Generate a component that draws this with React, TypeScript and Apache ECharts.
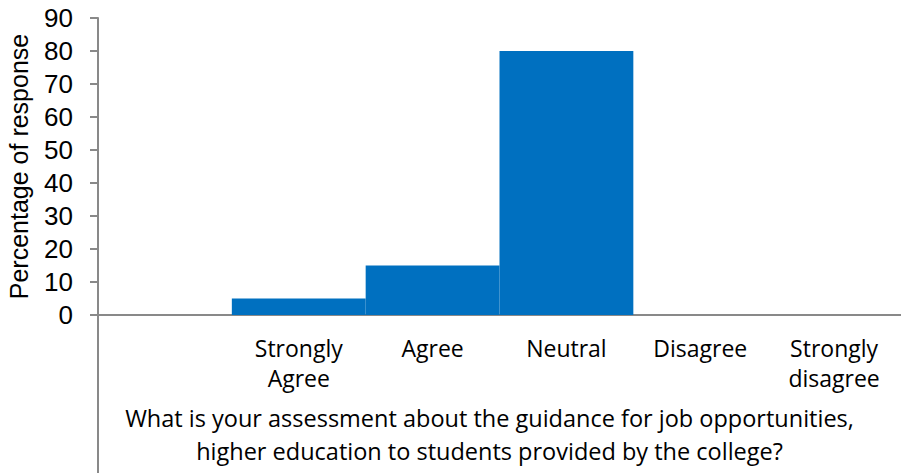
import React, { useEffect, useRef } from "react";
import * as echarts from "echarts";

const categories = ["", "Strongly\nAgree", "Agree", "Neutral", "Disagree", "Strongly\ndisagree"];
const values = [0, 5, 15, 80, 0, 0];
const yTitle = "Percentage of response";
const xTitle = "What is your assessment about the guidance for job opportunities,\nhigher education to students provided by the college?";

export default function App() {
  const ref = useRef<HTMLDivElement>(null);
  useEffect(() => {
    if (!ref.current) return;
    const chart = echarts.init(ref.current, null, { renderer: "svg" });
    const axisColor = "#898989";
    chart.setOption({
      animation: false,
      backgroundColor: "#ffffff",
      grid: { left: 98, right: 0, top: 18, bottom: 158, containLabel: false, outerBoundsMode: "none" },
      xAxis: {
        type: "category",
        data: categories,
        axisLine: { lineStyle: { color: axisColor, width: 2 } },
        axisTick: { show: false },
        axisLabel: {
          color: "#000",
          fontFamily: "Open Sans",
          fontSize: 23,
          lineHeight: 30,
          margin: 18,
          interval: 0,
        },
        name: xTitle,
        nameLocation: "middle",
        nameGap: 86,
        nameTextStyle: {
          color: "#000",
          fontFamily: "Open Sans",
          fontSize: 23.5,
          lineHeight: 33,
          padding: [0, 20, 0, 0],
        },
      },
      yAxis: {
        type: "value",
        min: 0,
        max: 90,
        interval: 10,
        splitLine: { show: false },
        axisLine: { show: true, lineStyle: { color: axisColor, width: 2 } },
        axisTick: { show: true, inside: false, length: 8, lineStyle: { color: axisColor, width: 2 } },
        axisLabel: {
          color: "#000",
          fontFamily: "Liberation Sans",
          fontSize: 26,
          margin: 25,
        },
        name: yTitle,
        nameLocation: "middle",
        nameGap: 67,
        nameTextStyle: {
          color: "#000",
          fontFamily: "Liberation Sans",
          fontSize: 25,
        },
      },
      series: [
        {
          type: "bar",
          data: values,
          barCategoryGap: "0%",
          itemStyle: { color: "#0070C0" },
        },
      ],
      graphic: [
        {
          type: "line",
          shape: { x1: 98, y1: 315, x2: 98, y2: 473 },
          style: { stroke: axisColor, lineWidth: 2 },
        },
      ],
    });
    return () => chart.dispose();
  }, []);
  return (
    <div
      ref={ref}
      style={{ position: "fixed", left: 0, top: 0, width: 901, height: 473, background: "#fff" }}
    />
  );
}
